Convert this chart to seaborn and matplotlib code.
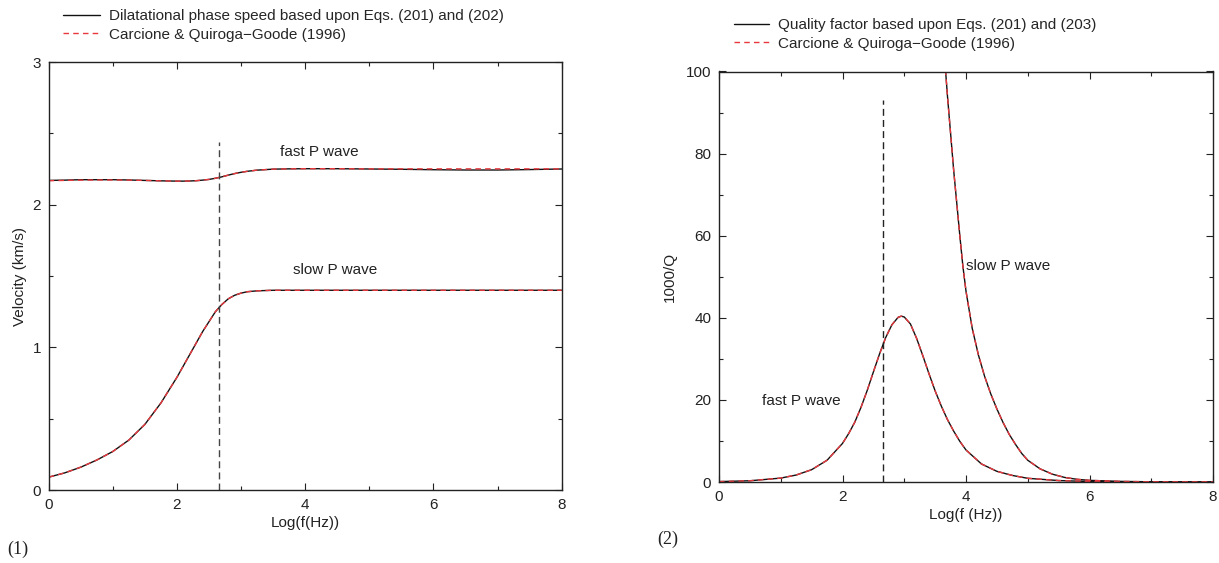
import numpy as np
import pandas as pd
import matplotlib
matplotlib.use("Agg")
import matplotlib.pyplot as plt
import seaborn as sns
from matplotlib.ticker import MultipleLocator
from matplotlib.lines import Line2D

# ---------------- data ----------------
# Panel 1: velocity (km/s) vs log10 f
vel_x = [0, 0.25, 0.5, 0.75, 1.0, 1.25, 1.5, 1.75, 2.0, 2.1, 2.2, 2.3, 2.4, 2.5,
         2.6, 2.7, 2.8, 2.9, 3.0, 3.1, 3.25, 3.5, 3.75, 4.0, 4.5, 5.0, 5.5, 6.0,
         6.5, 7.0, 7.5, 8.0]
fast_v_model = [2.170, 2.172, 2.175, 2.175, 2.175, 2.173, 2.170, 2.167, 2.165, 2.165,
                2.166, 2.168, 2.172, 2.177, 2.185, 2.195, 2.207, 2.218, 2.227, 2.234,
                2.242, 2.249, 2.251, 2.252, 2.252, 2.250, 2.248, 2.245, 2.243, 2.243,
                2.246, 2.250]
fast_v_cq = [2.168, 2.170, 2.172, 2.173, 2.173, 2.172, 2.170, 2.167, 2.165, 2.165,
             2.166, 2.168, 2.172, 2.177, 2.185, 2.195, 2.207, 2.218, 2.227, 2.234,
             2.242, 2.249, 2.251, 2.252, 2.252, 2.251, 2.251, 2.251, 2.251, 2.251,
             2.251, 2.251]
slow_v_model = [0.09, 0.12, 0.16, 0.21, 0.27, 0.35, 0.46, 0.61, 0.79, 0.87, 0.95,
                1.03, 1.11, 1.18, 1.25, 1.30, 1.34, 1.365, 1.38, 1.39, 1.396, 1.40,
                1.40, 1.40, 1.40, 1.40, 1.40, 1.40, 1.40, 1.40, 1.40, 1.40]
slow_v_cq = slow_v_model

# Panel 2: 1000/Q vs log10 f
q_fast_x = [0, 0.5, 1.0, 1.25, 1.5, 1.75, 2.0, 2.1, 2.2, 2.3, 2.4, 2.5, 2.6, 2.7,
            2.8, 2.9, 2.95, 3.0, 3.1, 3.2, 3.3, 3.4, 3.5, 3.6, 3.7, 3.8, 3.9, 4.0,
            4.25, 4.5, 4.75, 5.0, 5.5, 6.0, 7.0, 8.0]
q_fast = [0.1, 0.3, 0.95, 1.7, 3.0, 5.3, 9.4, 11.8, 14.6, 18.2, 22.3, 26.8, 31.2,
          35.2, 38.3, 40.1, 40.4, 40.2, 38.5, 35.0, 30.8, 26.4, 22.2, 18.5, 15.2,
          12.4, 9.9, 7.8, 4.4, 2.6, 1.6, 0.9, 0.35, 0.12, 0.02, 0.0]
q_slow_x = [3.6, 3.67, 3.7, 3.75, 3.8, 3.85, 3.9, 3.95, 4.0, 4.1, 4.2, 4.3, 4.4,
            4.5, 4.6, 4.7, 4.8, 4.9, 5.0, 5.2, 5.4, 5.6, 5.8, 6.0, 6.5, 7.0, 7.5, 8.0]
q_slow = [117, 100, 94, 85, 76, 68, 60, 52.5, 46.5, 37.5, 31, 25.8, 21.5, 17.8,
          14.5, 11.6, 9.2, 7.0, 5.3, 3.2, 1.9, 1.1, 0.65, 0.4, 0.15, 0.05, 0.02, 0.01]

crit_logf = 2.65
vline_top_v = 2.44
vline_top_q = 93

labels1 = ["Dilatational phase speed based upon Eqs. (201) and (202)",
           "Carcione & Quiroga\u2212Goode (1996)"]
labels2 = ["Quality factor based upon Eqs. (201) and (203)",
           "Carcione & Quiroga\u2212Goode (1996)"]

# ---------------- styling ----------------
FS = 11
sns.set_theme(style="ticks")
plt.rcParams["font.family"] = ["Liberation Sans", "DejaVu Sans"]
plt.rcParams["font.size"] = FS
plt.rcParams["axes.edgecolor"] = "#222222"
plt.rcParams["axes.linewidth"] = 1.0
plt.rcParams["xtick.direction"] = "in"
plt.rcParams["ytick.direction"] = "in"
plt.rcParams["xtick.top"] = True
plt.rcParams["ytick.right"] = True

W, H = 1219, 563
fig = plt.figure(figsize=(W / 100, H / 100), dpi=100)
fig.patch.set_facecolor("white")

ax1 = fig.add_axes([48.7 / W, 1 - 490 / H, 513 / W, 428 / H])
ax2 = fig.add_axes([719 / W, 1 - 482 / H, 494 / W, 410.5 / H])

BLACK = "#111111"
RED = "#e8383d"
TXT = "#222222"

def curve(ax, x, y, color, dashed):
    df = pd.DataFrame({"x": x, "y": y})
    sns.lineplot(data=df, x="x", y="y", ax=ax, color=color, lw=1.0,
                 linestyle=(0, (4, 3)) if dashed else "-",
                 legend=False, sort=False)

# Panel 1
curve(ax1, vel_x, fast_v_model, BLACK, False)
curve(ax1, vel_x, slow_v_model, BLACK, False)
curve(ax1, vel_x, fast_v_cq, RED, True)
curve(ax1, vel_x, slow_v_cq, RED, True)
ax1.vlines(crit_logf, 0, vline_top_v, colors="#444444", lw=1.0, linestyles=(0, (5, 3)))
ax1.set_xlim(0, 8)
ax1.set_ylim(0, 3)
ax1.xaxis.set_major_locator(MultipleLocator(2))
ax1.xaxis.set_minor_locator(MultipleLocator(1))
ax1.yaxis.set_major_locator(MultipleLocator(1))
ax1.yaxis.set_minor_locator(MultipleLocator(0.5))
ax1.set_xlabel("Log(f(Hz))", fontsize=FS, labelpad=3, color=TXT)
ax1.set_ylabel("Velocity (km/s)", fontsize=FS, color=TXT)
ax1.yaxis.set_label_coords(-0.042, 0.5)
ax1.text(4.22, 2.37, "fast P wave", ha="center", va="center", fontsize=FS, color=TXT)
ax1.text(4.46, 1.54, "slow P wave", ha="center", va="center", fontsize=FS, color=TXT)

# Panel 2
curve(ax2, q_fast_x, q_fast, BLACK, False)
curve(ax2, q_slow_x, q_slow, BLACK, False)
curve(ax2, q_fast_x, q_fast, RED, True)
curve(ax2, q_slow_x, q_slow, RED, True)
ax2.vlines(crit_logf, 0, vline_top_q, colors="#222222", lw=1.0, linestyles=(0, (5, 3)))
ax2.set_xlim(0, 8)
ax2.set_ylim(0, 100)
ax2.xaxis.set_major_locator(MultipleLocator(2))
ax2.xaxis.set_minor_locator(MultipleLocator(1))
ax2.yaxis.set_major_locator(MultipleLocator(20))
ax2.yaxis.set_minor_locator(MultipleLocator(10))
ax2.set_xlabel("Log(f (Hz))", fontsize=FS, labelpad=3, color=TXT)
ax2.set_ylabel("1000/Q", fontsize=FS, color=TXT)
ax2.yaxis.set_label_coords(-0.085, 0.5)
ax2.text(4.69, 52.5, "slow P wave", ha="center", va="center", fontsize=FS, color=TXT)
ax2.text(1.34, 19.8, "fast P wave", ha="center", va="center", fontsize=FS, color=TXT)

for ax in (ax1, ax2):
    ax.tick_params(which="major", length=5, width=0.8, colors="#222222",
                   labelsize=FS, pad=5.5)
    ax.tick_params(which="minor", length=3, width=0.8, colors="#222222")
    for s in ax.spines.values():
        s.set_visible(True)

h_solid = Line2D([], [], color=BLACK, lw=1.0)
h_dash = Line2D([], [], color=RED, lw=1.0, linestyle=(0, (4, 3)))
fig.legend([h_solid, h_dash], labels1, loc="upper left",
           bbox_to_anchor=(63 / W, 1 - 9 / H), frameon=False, fontsize=FS,
           handlelength=2.45, handletextpad=0.55, labelspacing=0.3, borderpad=0,
           borderaxespad=0)
fig.legend([h_solid, h_dash], labels2, loc="upper left",
           bbox_to_anchor=(734 / W, 1 - 18 / H), frameon=False, fontsize=FS,
           handlelength=2.3, handletextpad=0.55, labelspacing=0.3, borderpad=0,
           borderaxespad=0)

fig.text(7 / W, 1 - 549 / H, "(1)", family=["Liberation Serif", "DejaVu Serif"],
         fontsize=13, va="center", ha="left", color=TXT)
fig.text(657 / W, 1 - 539 / H, "(2)", family=["Liberation Serif", "DejaVu Serif"],
         fontsize=13, va="center", ha="left", color=TXT)

fig.savefig("out.png", dpi=100, facecolor="white")
